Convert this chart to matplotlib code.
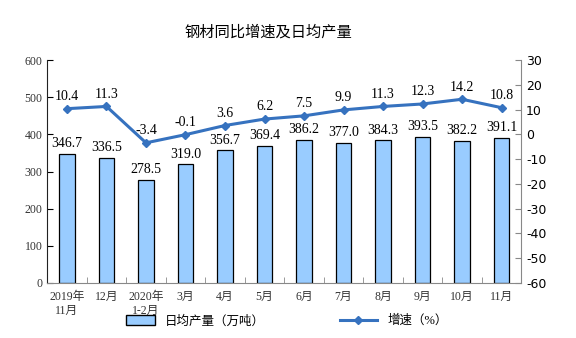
import numpy as np
import matplotlib
matplotlib.use("Agg")
import matplotlib.pyplot as plt
from matplotlib.patches import Patch
from matplotlib.lines import Line2D

plt.rcParams['font.family'] = ['Liberation Serif', 'Noto Sans CJK SC']

months = ["2019年\n11月", "12月", "2020年\n1-2月", "3月", "4月", "5月",
          "6月", "7月", "8月", "9月", "10月", "11月"]
output = [346.7, 336.5, 278.5, 319.0, 356.7, 369.4, 386.2, 377.0, 384.3, 393.5, 382.2, 391.1]
growth = [10.4, 11.3, -3.4, -0.1, 3.6, 6.2, 7.5, 9.9, 11.3, 12.3, 14.2, 10.8]

bar_color = "#99CCFF"
line_color = "#3672BF"

fig = plt.figure(figsize=(5.76, 3.38), dpi=100)
ax = fig.add_axes([0.082, 0.163, 0.823, 0.659])
x = np.arange(len(months))

ax.bar(x, output, width=0.4, color=bar_color, edgecolor="black", linewidth=0.9, zorder=2)
for xi, v in zip(x, output):
    ax.text(xi, v + 10, f"{v:.1f}", ha="center", va="bottom", fontsize=10)

ax.set_xlim(-0.5, len(months) - 0.5)
ax.set_ylim(0, 600)
ax.set_yticks(range(0, 601, 100))
ax.tick_params(axis="y", labelsize=8.5, length=4, direction="in", labelcolor="#333333")
ax.set_xticks(x)
ax.set_xticklabels(months, fontsize=8.5, color="#333333")
ax.tick_params(axis="x", length=0, pad=6)
ax.set_xticks(np.arange(-0.5, len(months), 1), minor=True)
ax.tick_params(axis="x", which="minor", length=4, direction="in", color="#888888")
ax.spines["top"].set_visible(False)
ax.spines["right"].set_visible(False)
ax.spines["bottom"].set_color("#888888")
ax.spines["left"].set_color("#222222")

ax2 = ax.twinx()
ax2.plot(x, growth, color=line_color, linewidth=2.2, marker="D", markersize=4.5, zorder=3)
for xi, v in zip(x, growth):
    ax2.text(xi, v + 2.3, f"{v:.1f}", ha="center", va="bottom", fontsize=10)
ax2.set_ylim(-60, 30)
ax2.set_yticks(range(-60, 31, 10))
ax2.set_yticklabels([str(t) for t in range(-60, 31, 10)], family="DejaVu Sans", fontsize=9)
ax2.tick_params(axis="y", length=4, direction="in", color="#888888")
ax2.spines["top"].set_visible(False)
ax2.spines["left"].set_visible(False)
ax2.spines["bottom"].set_visible(False)
ax2.spines["right"].set_color("#888888")

fig.text(0.466, 0.905, "钢材同比增速及日均产量", ha="center", va="center",
         fontsize=11, family=["Noto Sans CJK SC"])

handles = [Patch(facecolor=bar_color, edgecolor="black", label="日均产量（万吨）")]
fig.legend(handles=handles, loc="center left", bbox_to_anchor=(0.2, 0.05), frameon=False,
           fontsize=9, handlelength=2.3, handleheight=0.9)
handles2 = [Line2D([0], [0], color=line_color, lw=2.2, marker="D", markersize=4, label="增速（%）")]
fig.legend(handles=handles2, loc="center left", bbox_to_anchor=(0.57, 0.05), frameon=False,
           fontsize=9, handlelength=3.0)

fig.savefig("out.png", dpi=100)
